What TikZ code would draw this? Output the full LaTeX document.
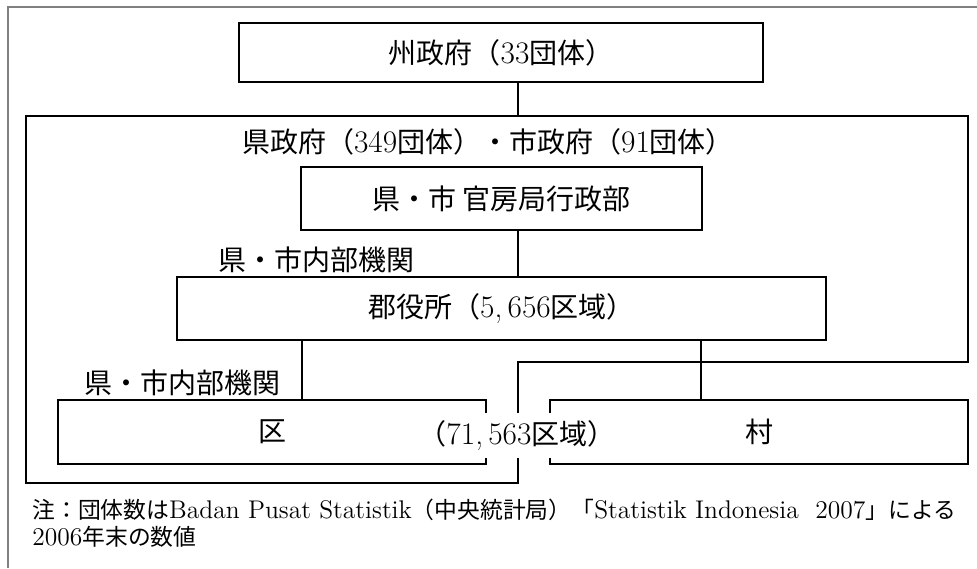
\documentclass[tikz,border=0pt]{standalone}
\usepackage{fontspec}
\setmainfont{Latin Modern Roman}[Scale=1.12]
\newfontfamily\jfont{Noto Sans CJK JP}
\newcommand{\J}[1]{{\jfont #1}}
\usetikzlibrary{positioning}

\begin{document}
\begin{tikzpicture}[x=0.5pt,y=-0.5pt,
    orgbox/.style={draw,line width=1.3pt,inner sep=0pt,
      font=\fontsize{14pt}{16pt}\selectfont},
    orglabel/.style={inner sep=1pt,font=\fontsize{14pt}{16pt}\selectfont},
    orgline/.style={line width=1.3pt}]
\useasboundingbox (0,0) rectangle (977,568);
\draw[gray,line width=0.6pt] (8,568) -- (8,7) -- (977,7);

% boxes
\node[orgbox,minimum width=262pt,minimum height=29.5pt] (state) at (501,52.5)
  {\J{州政府（}33\J{団体）}};
\node[orgbox,minimum width=200.5pt,minimum height=31.5pt] (kanbo) at (501.5,198.5)
  {\J{県・市 官房局行政部}};
\node[orgbox,minimum width=324.5pt,minimum height=31.5pt] (gun) at (501.5,308.5)
  {\J{郡役所（}5,\,656\J{区域）}};
\node[orgbox,minimum width=214pt,minimum height=32pt] (ku) at (272,432) {\J{区}};
\node[orgbox,minimum width=209pt,minimum height=32pt] (mura) at (759,432) {\J{村}};

% prefecture / city frame
\draw[orgline] (26,116) -- (968,116) -- (968,362) -- (518,362)
  -- (518,483) -- (26,483) -- cycle;
\node[orglabel] (ken) at (488,142) {\J{県政府（}349\J{団体）・市政府（}91\J{団体）}};
\node[orglabel,anchor=south west] (naibu1) at ([xshift=20pt]gun.north west) {\J{県・市内部機関}};
\node[orglabel,anchor=south west] (naibu2) at ([xshift=12.5pt]ku.north west) {\J{県・市内部機関}};

% connectors
\coordinate (spine) at (518,116);
\coordinate (kuj) at (302,0);
\coordinate (muraj) at (701,0);
\draw[orgline] (state.south -| spine) -- (spine);
\draw[orgline] (kanbo.south -| spine) -- (gun.north -| spine);
\draw[orgline] (gun.south -| kuj) -- (ku.north -| kuj);
\draw[orgline] (gun.south -| muraj) -- (mura.north -| muraj);

\node[orglabel,fill=white,inner xsep=2pt,minimum height=22.5pt] (count) at (517,435.5)
  {\J{（}71,\,563\J{区域）}};

% note
\node[anchor=west,inner sep=0pt,font=\fontsize{11.4pt}{13pt}\selectfont] (note1) at (32,510)
  {\J{注：団体数は}Badan Pusat Statistik\J{（中央統計局）「}Statistik Indonesia\ \ 2007\J{」による}};
\node[anchor=west,inner sep=0pt,font=\fontsize{11.4pt}{13pt}\selectfont] (note2) at (32,537)
  {2006\J{年末の数値}};
\end{tikzpicture}
\end{document}
